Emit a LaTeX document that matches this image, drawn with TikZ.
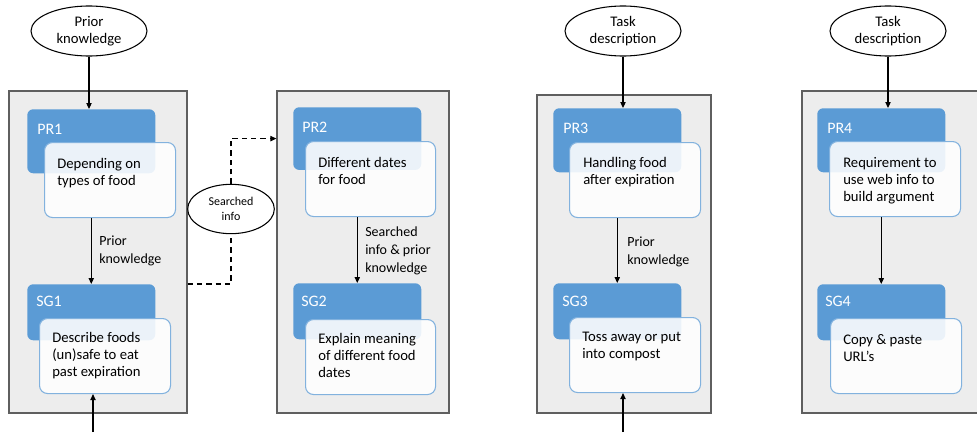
\documentclass[tikz,border=0pt]{standalone}
\usepackage{fontspec}
\setmainfont{Carlito}
\usetikzlibrary{shapes.geometric,arrows.meta}

\definecolor{hdrblue}{RGB}{91,155,213}
\definecolor{boxline}{RGB}{130,178,222}
\definecolor{panelgray}{RGB}{237,237,237}
\definecolor{panelline}{RGB}{95,95,95}

\begin{document}
\begin{tikzpicture}[x=0.75pt,y=0.75pt,yscale=-1,xscale=1,
  panel/.style={draw=panelline,fill=panelgray,line width=0.9pt,minimum width=133.5pt,minimum height=241.5pt,inner sep=0pt},
  hdr/.style={fill=hdrblue,rounded corners=4.5pt,minimum width=96pt,inner sep=0pt,anchor=north west},
  wbox/.style={draw=boxline,fill=white,fill opacity=0.88,line width=0.8pt,rounded corners=6pt,minimum width=98.25pt,minimum height=56.25pt,inner sep=0pt,anchor=north west},
  bubble/.style={ellipse,draw,line width=0.8pt,fill=white,align=center,inner sep=0pt,font=\fontsize{11}{13}\selectfont},
  hdrtxt/.style={anchor=west,inner sep=0.75pt,text=white,font=\fontsize{12}{14}\selectfont},
  body/.style={anchor=north west,inner sep=0pt,align=left,font=\fontsize{11}{12.75}\selectfont},
  lbl/.style={anchor=north west,inner sep=0pt,align=left,font=\fontsize{10.5}{13.5}\selectfont},
  arr/.style={line width=0.8pt,-{Triangle[length=4.5pt,width=4pt]}},
  dsh/.style={line width=0.9pt,dashed,dash pattern=on 4pt off 3pt}]
\clip (0,0) rectangle (977,432);

% Panels
\node[panel] (p1) at (98,252) {};
\node[panel,minimum width=129pt] (p2) at (363,252) {};
\node[panel,minimum width=130.5pt,minimum height=238.5pt] (p3) at (624,254) {};
\node[panel,minimum width=141pt] (p4) at (896,252) {};

% Ellipses
\node[bubble,minimum width=87pt,minimum height=37.5pt] (pk) at (89,31) {Prior\\knowledge};
\node[bubble,minimum width=65pt,minimum height=37pt,font=\fontsize{9}{11.5}\selectfont] (si) at (231,209) {Searched\\info};
\node[bubble,minimum width=87pt,minimum height=37.5pt] (td3) at (623,31) {Task\\description};
\node[bubble,minimum width=87pt,minimum height=37.5pt] (td4) at (888,31) {Task\\description};

% Blue headers
\node[hdr,minimum height=48pt] (pr1) at (27,109) {};
\node[hdr,minimum height=42pt] (sg1) at (27,284) {};
\node[hdr,minimum height=47pt] (pr2) at (293,107) {};
\node[hdr,minimum height=42pt] (sg2) at (293,283) {};
\node[hdr,minimum height=48pt] (pr3) at (553,108) {};
\node[hdr,minimum height=42pt] (sg3) at (553,283) {};
\node[hdr,minimum height=48pt] (pr4) at (817,108) {};
\node[hdr,minimum height=42pt] (sg4) at (817,284) {};

% White boxes
\node[wbox] (pr1w) at (44,142) {};
\node[wbox] (sg1w) at (39,318) {};
\node[wbox,minimum width=97.5pt] (pr2w) at (305,141) {};
\node[wbox,minimum width=97.5pt] (sg2w) at (305,319) {};
\node[wbox] (pr3w) at (569,142) {};
\node[wbox] (sg3w) at (569,317) {};
\node[wbox] (pr4w) at (829,141) {};
\node[wbox] (sg4w) at (830,318) {};

% Text Node
\node[hdrtxt] (pr1t) at (36,129) {PR1};
\node[hdrtxt] (sg1t) at (35,301) {SG1};
\node[hdrtxt] (pr2t) at (301,127) {PR2};
\node[hdrtxt] (sg2t) at (300,301) {SG2};
\node[hdrtxt] (pr3t) at (562,128) {PR3};
\node[hdrtxt] (sg3t) at (561,301) {SG3};
\node[hdrtxt] (pr4t) at (826,128) {PR4};
\node[hdrtxt] (sg4t) at (824,301) {SG4};
% Text Node
\node[body] (pr1b) at (57,158) {Depending on\\types of food};
\node[body] (sg1b) at (52,332) {Describe foods\\(un)safe to eat\\past expiration};
\node[body] (pr2b) at (318,157) {Different dates\\for food};
\node[body] (sg2b) at (318,333) {Explain meaning\\of different food\\dates};
\node[body] (pr3b) at (583,157) {Handling food\\after expiration};
\node[body] (sg3b) at (582,332) {Toss away or put\\into compost};
\node[body] (pr4b) at (843,157) {Requirement to\\use web info to\\build argument};
\node[body] (sg4b) at (843,334) {Copy \& paste\\URL’s};
% Text Node
\node[lbl] (l1) at (99,236) {Prior\\knowledge};
\node[lbl] (l2) at (365,227) {Searched\\info \& prior\\knowledge};
\node[lbl] (l3) at (627,237) {Prior\\knowledge};

%Straight Lines
\draw[arr] (pk.south) -- (pk.south |- pr1.north);
\draw[arr] (pr1w.south -| sg1.north) -- (sg1.north);
\coordinate (in1) at (93,432);
\draw[arr] (in1) -- (in1 |- sg1w.south);

\draw[arr] (pr2w.south -| sg2.north) -- (sg2.north);

\draw[arr] (td3.south) -- (td3.south |- pr3.north);
\draw[arr] (pr3w.south -| sg3.north) -- (sg3.north);
\coordinate (in3) at (623,432);
\draw[arr] (in3) -- (in3 |- sg3w.south);

\draw[arr] (td4.south) -- (td4.south |- pr4.north);
\draw[arr] (pr4w.south -| sg4.north) -- (sg4.north);

%Dashed Lines
\draw[dsh] (p1.east |- sg1.north) -| (si.south);
\draw[dsh,arr] (si.north) |- (p2.west |- pr2);

\end{tikzpicture}
\end{document}
